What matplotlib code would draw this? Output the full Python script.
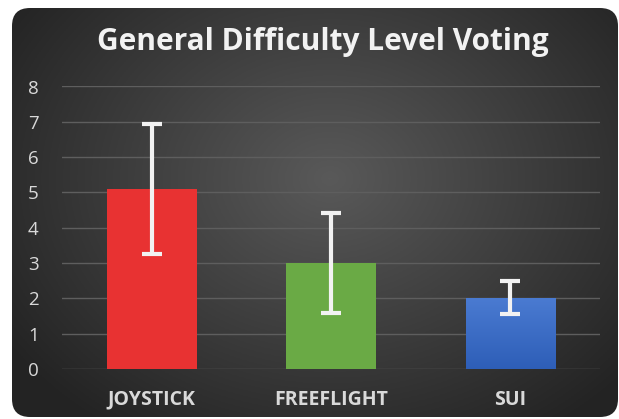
import numpy as np
import matplotlib.pyplot as plt
from matplotlib.patches import FancyBboxPatch

categories = ['JOYSTICK', 'FREEFLIGHT', 'SUI']
means = [5.1, 3.0, 2.0]
err_low = [3.25, 1.6, 1.55]
err_high = [6.95, 4.42, 2.5]
bar_colors = ['#e83232', '#6aaa45', '#3f6fc7']
yticks = [0, 1, 2, 3, 4, 5, 6, 7, 8]
title = 'General Difficulty Level Voting'

plt.rcParams['font.family'] = ['Open Sans', 'DejaVu Sans']

W, H = 619, 419
fig = plt.figure(figsize=(W / 100, H / 100), dpi=100)
fig.patch.set_facecolor('white')

# background card with radial gradient
bg = fig.add_axes([0, 0, 1, 1])
bg.set_xlim(0, W)
bg.set_ylim(0, H)
bg.axis('off')
xx, yy = np.meshgrid(np.linspace(0, W, 300), np.linspace(0, H, 200))
r = np.sqrt(((xx - 330) / 330) ** 2 + ((yy - 240) / 260) ** 2)
shade = np.clip(0.35 - 0.18 * r, 0.14, 0.35)
img = bg.imshow(np.dstack([shade, shade, shade]), extent=[0, W, 0, H],
                origin='lower', aspect='auto', zorder=0)
card = FancyBboxPatch((12 + 18, 2 + 18), 606 - 36, 409 - 36,
                      boxstyle='round,pad=18', facecolor='none',
                      edgecolor='none', transform=bg.transData)
bg.add_patch(card)
img.set_clip_path(card)

fig.text(0.522, 0.899, title, ha='center', va='center', color='#f2f2f2',
         fontsize=21.5, fontweight='bold')

ax = fig.add_axes([62 / W, 50 / H, 538 / W, 282.5 / H])
ax.set_facecolor('none')
x = np.arange(len(categories))
bars = ax.bar(x, means, width=0.5, color=bar_colors, zorder=3)

# gradient on SUI bar
sui = bars[2]
sui.set_facecolor('none')
bx, by = sui.get_x(), sui.get_y()
bw, bh = sui.get_width(), sui.get_height()
grad = np.linspace(0, 1, 50).reshape(-1, 1)
cmap_img = np.dstack([0.18 + 0.11 * grad, 0.37 + 0.11 * grad, 0.72 + 0.1 * grad])
ax.imshow(cmap_img, extent=[bx, bx + bw, by, by + bh], origin='lower',
          aspect='auto', zorder=3)

lower = np.array(means) - np.array(err_low)
upper = np.array(err_high) - np.array(means)
ax.errorbar(x, means, yerr=[lower, upper], fmt='none', ecolor='#f2f2f2',
            elinewidth=3, capsize=7, capthick=3, zorder=4)

ax.set_xlim(-0.5, 2.5)
ax.set_ylim(0, 8)
ax.set_yticks(yticks)
ax.set_xticks(x)
ax.set_xticklabels(categories, fontsize=14, fontweight='bold', color='#d9d9d9')
ax.tick_params(axis='y', labelsize=13.5, labelcolor='#d9d9d9', length=0, pad=24.5)
ax.tick_params(axis='x', length=0, pad=15)
for lbl in ax.get_yticklabels():
    lbl.set_horizontalalignment('left')
ax.grid(axis='y', color='#5e5e5e', linewidth=1, zorder=0)
for s in ax.spines.values():
    s.set_visible(False)

fig.savefig('out.png', dpi=100)
